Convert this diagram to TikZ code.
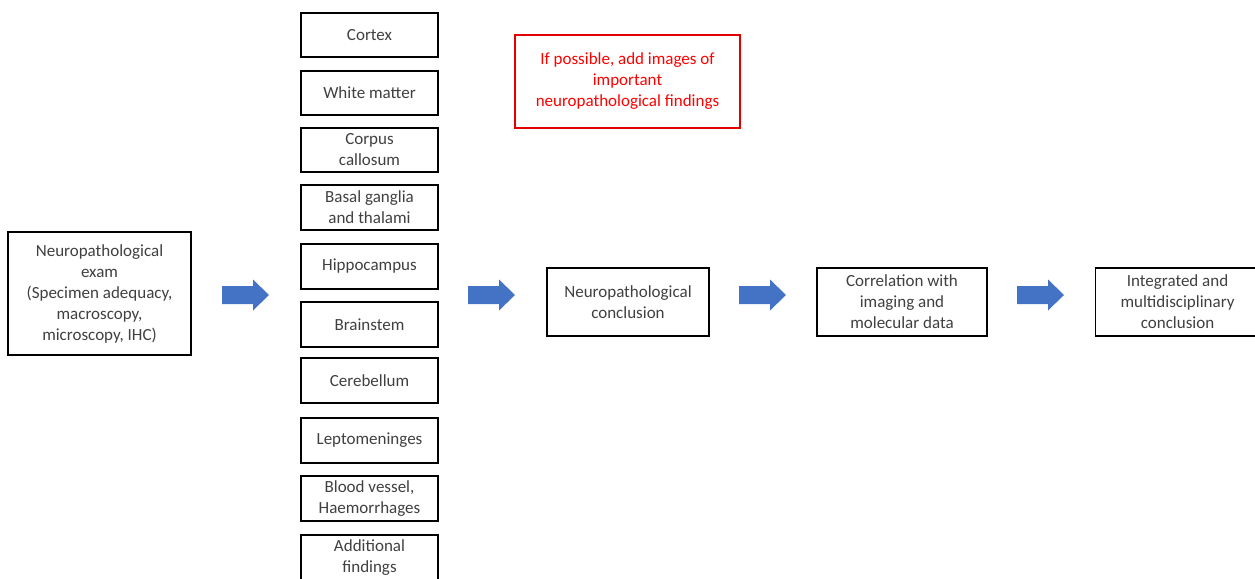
\documentclass[tikz,border=0pt]{standalone}
\usepackage{fontspec}
\setmainfont{Carlito}
\begin{document}
\begin{tikzpicture}[x=1pt,y=-1pt,
  box/.style={draw=black,line width=1.1pt,fill=white,inner sep=0pt,align=center,text=black!75,font=\fontsize{17}{21}\selectfont},
  redbox/.style={draw=red!90!black,line width=1.1pt,inner sep=0pt,align=center,text=red,font=\fontsize{17}{21}\selectfont},
  blockarrow/.pic={\fill[arrowblue] (0,-9) -- (31,-9) -- (31,-15.5) -- (47,0) -- (31,15.5) -- (31,9) -- (0,9) -- cycle;}
]
\definecolor{arrowblue}{HTML}{4472C4}
\clip (0,0) rectangle (1255,578);
\fill[white] (0,0) rectangle (1255,578);
% left box
\node[box,minimum width=183pt,minimum height=123pt] (exam) at (99.5,293.5) {Neuropathological\\exam\\(Specimen adequacy,\\macroscopy,\\microscopy, IHC)};
% column boxes
\node[box,minimum width=137pt,minimum height=44pt] (cortex) at (369.5,35) {Cortex};
\node[box,minimum width=137pt,minimum height=44pt] (white) at (369.5,93) {White matter};
\node[box,minimum width=137pt,minimum height=44pt] (corpus) at (369.5,150) {Corpus\\callosum};
\node[box,minimum width=137pt,minimum height=45pt] (basal) at (369.5,207.5) {Basal ganglia\\and thalami};
\node[box,minimum width=137pt,minimum height=45pt] (hippo) at (369.5,266.5) {Hippocampus};
\node[box,minimum width=137pt,minimum height=45pt] (brainstem) at (369.5,324.5) {Brainstem};
\node[box,minimum width=137pt,minimum height=45pt] (cerebellum) at (369.5,380.5) {Cerebellum};
\node[box,minimum width=137pt,minimum height=45pt] (lepto) at (369.5,440.5) {Leptomeninges};
\node[box,minimum width=137pt,minimum height=45pt] (blood) at (369.5,498.5) {Blood vessel,\\Haemorrhages};
\node[box,minimum width=137pt,minimum height=46pt] (additional) at (369.5,558) {Additional\\findings};
% red note
\node[redbox,minimum width=225pt,minimum height=93pt] (note) at (627.5,81.5) {If possible, add images of\\important\\neuropathological findings};
% right chain
\node[box,minimum width=162pt,minimum height=68pt] (concl) at (628,302) {Neuropathological\\conclusion};
\node[box,minimum width=170pt,minimum height=68pt] (corr) at (902,302) {Correlation with\\imaging and\\molecular data};
\node[box,minimum width=164pt,minimum height=68pt,anchor=west] (integ) at (1095,302) {Integrated and\\multidisciplinary\\conclusion};
% block arrows
\pic (a1) at (222,295) {blockarrow};
\pic (a2) at (468,295) {blockarrow};
\pic (a3) at (739,295) {blockarrow};
\pic (a4) at (1017,295) {blockarrow};
\end{tikzpicture}
\end{document}
